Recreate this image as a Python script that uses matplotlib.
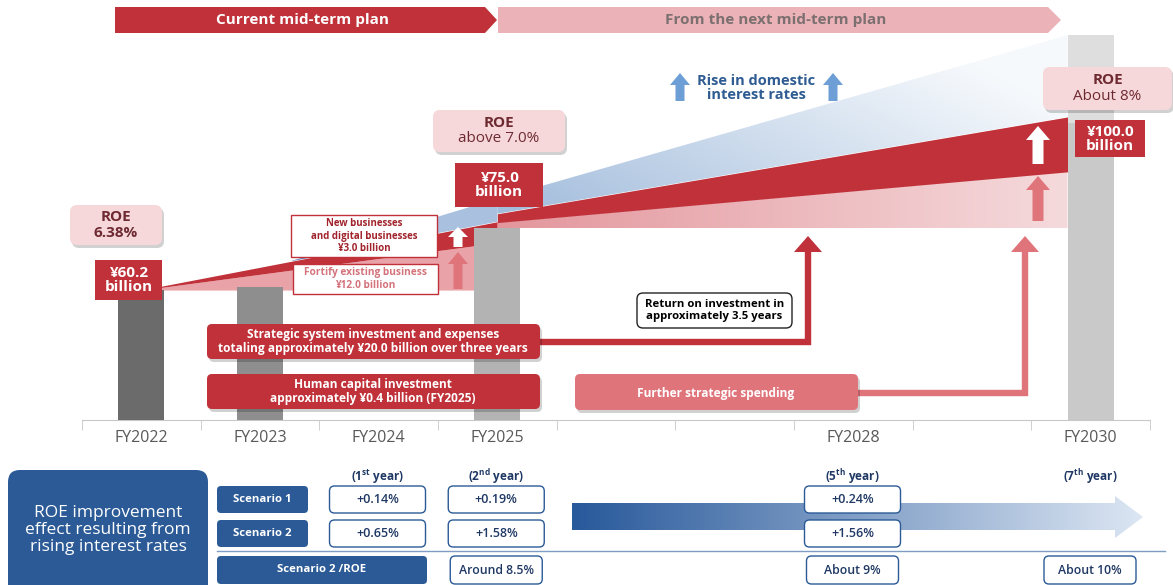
import numpy as np
import matplotlib.pyplot as plt
from matplotlib.patches import FancyBboxPatch, Polygon, FancyArrow
from matplotlib.colors import to_rgb

plt.rcParams['font.family'] = ['Open Sans', 'DejaVu Sans']
plt.rcParams['mathtext.fontset'] = 'custom'
plt.rcParams['mathtext.rm'] = 'Open Sans:bold'

# ---- data (billions of yen) ----
tick_labels = ['FY2022', 'FY2023', 'FY2024', 'FY2025', '', '', 'FY2028', '', 'FY2030']
bar_slots = [0, 1, 3, 8]
bar_values = [60.2, 61.0, 75.0, 100.0]
bar_colors = ['#6b6b6b', '#8e8e8e', '#b3b3b3', '#c9c9c9']
label_values = [60.2, 75.0, 100.0]
roe_labels = [('ROE', '6.38%'), ('ROE', 'above 7.0%'), ('ROE', 'About 8%')]

# fan between FY2022 and FY2025
seg1_x = [0, 3]
seg1_pink_top = [60.2, 71.5]
seg1_red_top = [60.2, 76.5]
seg1_blue_x = [1.26, 3]
seg1_blue_top = [67.1, 82.0]
# fan between FY2025 and FY2030
seg2_x = [3, 7.805]
seg2_base = 75.0
seg2_pink_top = [76.3, 88.4]
seg2_red_top = [78.4, 101.5]
seg2_blue_top = [82.0, 121.0]

year_headers = ['1', '2', '5', '7']
year_suffix = ['st', 'nd', 'th', 'th']
header_slots = [2, 3, 6, 8]
scenario1 = ['+0.14%', '+0.19%', '+0.24%']
scenario2 = ['+0.65%', '+1.58%', '+1.56%']
scenario_slots = [2, 3, 6]
roe_row = ['Around 8.5%', 'About 9%', 'About 10%']
roe_row_slots = [3, 6, 8]

RED = '#c0313a'
PINK = '#e0747b'
LPINK = '#f6d8da'
NAVY = '#2b5a96'
TXTBLUE = '#1f3864'

fig = plt.figure(figsize=(11.73, 5.85), dpi=100)

# main chart axes, baseline at y=420px, slots every 118.75px
ax = fig.add_axes([82 / 1173, 1 - 420 / 585, 1068 / 1173, 420 / 585])
ax.set_xlim(-0.5, 8.5)
ax.set_ylim(29.2, 129.4)
ax.set_facecolor('none')
for s in ['top', 'left', 'right']:
    ax.spines[s].set_visible(False)
ax.spines['bottom'].set_color('#c8c8c8')
ax.set_yticks([])
ax.set_xticks(range(9))
ax.set_xticklabels(tick_labels, color='#595959', fontsize=11.5)
ax.set_xticks(np.arange(-0.5, 9.0, 1.0), minor=True)
ax.tick_params(axis='x', which='major', length=0, pad=7)
ax.tick_params(axis='x', which='minor', length=7, color='#c8c8c8')


def grad_fill(a, xs, lo, hi, c0, c1, wx=1.0, wy=0.0, z=1):
    xs = np.asarray(xs, float)
    lo = np.broadcast_to(np.asarray(lo, float), xs.shape)
    hi = np.asarray(hi, float)
    verts = np.vstack([np.column_stack([xs, lo]), np.column_stack([xs[::-1], hi[::-1]])])
    poly = Polygon(verts, closed=True, facecolor='none', edgecolor='none')
    a.add_patch(poly)
    ny, nx = 60, 120
    xf = np.linspace(0, 1, nx)[None, :]
    yf = np.linspace(0, 1, ny)[:, None]
    t = np.clip(wx * xf + wy * yf, 0, 1)
    c0, c1 = np.array(to_rgb(c0)), np.array(to_rgb(c1))
    img = c0[None, None, :] * (1 - t[..., None]) + c1[None, None, :] * t[..., None]
    im = a.imshow(img, extent=[xs.min(), xs.max(), min(lo.min(), hi.min()), max(lo.max(), hi.max())],
                  origin='lower', aspect='auto', zorder=z, interpolation='bilinear')
    im.set_clip_path(poly)


# fan FY2022 -> FY2025
ax.fill_between(seg1_x, [bar_values[0]] * 2, seg1_pink_top, color='#e9a3a8', lw=0, zorder=1)
ax.fill_between(seg1_x, seg1_pink_top, seg1_red_top, color=RED, lw=0, zorder=1)
blue1_lo = np.interp(seg1_blue_x, seg1_x, seg1_red_top)
grad_fill(ax, seg1_blue_x, blue1_lo, seg1_blue_top, '#5d83ba', '#a9c1df', wx=2.0, z=1)

# fan FY2025 -> FY2030
grad_fill(ax, seg2_x, seg2_base, seg2_pink_top, '#e3969c', '#f5dadc', wx=1.0, z=1)
ax.fill_between(seg2_x, seg2_pink_top, seg2_red_top, color=RED, lw=0, zorder=1)
grad_fill(ax, seg2_x, seg2_red_top, seg2_blue_top, '#a2bcdc', '#f6f9fc', wx=0.75, wy=0.45, z=1)

# bars
ax.bar(bar_slots[-1], seg2_blue_top[-1] - bar_values[-1], bottom=bar_values[-1], width=0.39,
       color='#dedede', zorder=3)
ax.bar(bar_slots, np.array(bar_values) - 29.2, bottom=29.2, width=0.39, color=bar_colors, zorder=3)

# ---- overlay in pixel coordinates ----
ov = fig.add_axes([0, 0, 1, 1], zorder=5)
ov.axis('off')


def px(slot):
    return 140 + 118.75 * slot


def rbox(x0, y0, x1, y1, fc, ec='none', lw=0.0, r=6, shadow=False, z=5):
    if shadow:
        ov.add_patch(FancyBboxPatch((x0 + 2, y0 + 3), x1 - x0, y1 - y0,
                                    boxstyle=f'round,pad=0,rounding_size={r}',
                                    fc='#000000', ec='none', alpha=0.18, zorder=z - 0.1))
    ov.add_patch(FancyBboxPatch((x0, y0), x1 - x0, y1 - y0,
                                boxstyle=f'round,pad=0,rounding_size={r}',
                                fc=fc, ec=ec, lw=lw, zorder=z))


def label(x, y, s, **kw):
    kw.setdefault('ha', 'center')
    kw.setdefault('va', 'center')
    kw.setdefault('zorder', 7)
    ov.text(x, y, s, **kw)


def up_arrow(x, y_tail, y_head, color, w=9, hw=22, hl=11, z=6):
    ov.add_patch(FancyArrow(x, y_tail, 0, y_head - y_tail, width=w, head_width=hw,
                            head_length=hl, length_includes_head=True, color=color, lw=0, zorder=z))


# banners
ov.add_patch(Polygon([(115, 7), (485, 7), (497, 20), (485, 33), (115, 33)], fc=RED, ec='none'))
label(303, 20, 'Current mid-term plan', color='white', fontsize=11, fontweight='bold')
ov.add_patch(Polygon([(498, 7), (1048, 7), (1061, 20), (1048, 33), (498, 33)], fc='#ebb3b7', ec='none'))
label(776, 20, 'From the next mid-term plan', color='#7b6f70', fontsize=11, fontweight='bold')

# ROE boxes
roe_boxes = [(70, 205, 162, 245), (433, 110, 565, 152), (1043, 67, 1172, 110)]
for (x0, y0, x1, y1), (l1, l2), k in zip(roe_boxes, roe_labels, range(3)):
    rbox(x0, y0, x1, y1, LPINK, shadow=True, r=7)
    cx, cy = (x0 + x1) / 2, (y0 + y1) / 2
    label(cx, cy - 8, l1, color='#6e2a31', fontsize=11, fontweight='bold')
    label(cx, cy + 8, l2, color='#6e2a31', fontsize=11, fontweight='bold' if k == 0 else 'normal')

# value boxes
val_boxes = [(95, 260, 162, 300), (455, 163, 543, 207), (1075, 120, 1145, 157)]
for (x0, y0, x1, y1), v in zip(val_boxes, label_values):
    ov.add_patch(Polygon([(x0, y0), (x1, y0), (x1, y1), (x0, y1)], fc=RED, ec='none', zorder=5))
    label((x0 + x1) / 2, (y0 + y1) / 2, f'¥{v:.1f}\nbillion', color='white', fontsize=11,
          fontweight='bold', linespacing=1.0)

# breakdown boxes FY2025
ov.add_patch(Polygon([(291, 215), (437, 215), (437, 257), (291, 257)], fc='white', ec='#c0313a', lw=1, zorder=5))
label(364, 236, 'New businesses\nand digital businesses\n¥3.0 billion', color='#a1242c', fontsize=7,
      fontweight='bold', linespacing=1.15)
ov.add_patch(Polygon([(293, 264), (438, 264), (438, 294), (293, 294)], fc='white', ec='#c0313a', lw=1, zorder=5))
label(365, 279, 'Fortify existing business\n¥12.0 billion', color='#d4737b', fontsize=7.3,
      fontweight='bold', linespacing=1.15)
up_arrow(458, 247, 227, 'white', w=9, hw=20, hl=10)
up_arrow(458, 289, 252, '#e0747b', w=9, hw=20, hl=12)
up_arrow(1038, 164, 126, 'white', w=11, hw=24, hl=14)
up_arrow(1038, 221, 176, '#e0747b', w=11, hw=24, hl=14)

# interest rates note
label(756, 88, 'Rise in domestic\ninterest rates', color='#2f5c92', fontsize=10.5, fontweight='bold',
      linespacing=1.05)
up_arrow(680, 101, 73, '#6d9fd6', w=9, hw=20, hl=12)
up_arrow(833, 101, 73, '#6d9fd6', w=9, hw=20, hl=12)

# elbow arrows
ov.plot([540, 808, 808], [342, 342, 250], color=RED, lw=4.6, solid_joinstyle='miter',
        solid_capstyle='butt', zorder=4)
ov.add_patch(Polygon([(794, 252), (822, 252), (808, 236)], fc=RED, ec='none', zorder=4))
ov.plot([858, 1025, 1025], [393, 393, 250], color=PINK, lw=4.6, solid_joinstyle='miter',
        solid_capstyle='butt', zorder=4)
ov.add_patch(Polygon([(1011, 252), (1039, 252), (1025, 236)], fc=PINK, ec='none', zorder=4))

rbox(207, 324, 540, 359, RED, shadow=True, r=5)
label(373, 341.5, 'Strategic system investment and expenses\ntotaling approximately ¥20.0 billion over three years',
      color='white', fontsize=8.6, fontweight='bold', linespacing=1.1)
rbox(207, 374, 540, 409, RED, shadow=True, r=5)
label(373, 391.5, 'Human capital investment\napproximately ¥0.4 billion (FY2025)',
      color='white', fontsize=8.6, fontweight='bold', linespacing=1.1)
rbox(575, 374, 858, 410, PINK, shadow=True, r=5)
label(716, 393, 'Further strategic spending', color='white', fontsize=8.6, fontweight='bold')
rbox(637, 293, 792, 328, 'white', ec='#222222', lw=1, r=6)
label(714.5, 310.5, 'Return on investment in\napproximately 3.5 years', color='black', fontsize=8.2,
      fontweight='bold', linespacing=1.1)

# ---- table ----
rbox(8, 470, 208, 600, NAVY, r=12)
label(108, 530, 'ROE improvement\neffect resulting from\nrising interest rates', color='white',
      fontsize=12.5, linespacing=1.05)
ov.plot([217, 1165], [550.5, 550.5], color='#7f9dc4', lw=1, zorder=4)

# gradient arrow
arr = Polygon([(572, 503), (1115, 503), (1115, 496), (1143, 517), (1115, 538), (1115, 530), (572, 530)],
              closed=True, fc='none', ec='none')
ov.add_patch(arr)
g = np.linspace(0, 1, 200)[None, :]
c0, c1 = np.array(to_rgb('#28599b')), np.array(to_rgb('#dce6f3'))
gimg = c0 * (1 - g[..., None]) + c1 * g[..., None]
gim = ov.imshow(np.repeat(gimg, 2, axis=0), extent=[572, 1143, 538, 496], aspect='auto', zorder=3)
gim.set_clip_path(arr)
ov.set_xlim(0, 1173)
ov.set_ylim(585, 0)

rbox(217, 486, 308, 513, NAVY, r=4)
label(262.5, 499.5, 'Scenario 1', color='white', fontsize=8.2, fontweight='bold')
rbox(217, 520, 308, 547, NAVY, r=4)
label(262.5, 533.5, 'Scenario 2', color='white', fontsize=8.2, fontweight='bold')
rbox(217, 556, 427, 584, NAVY, r=4)
label(322, 570, 'Scenario 2 /ROE', color='white', fontsize=8.2, fontweight='bold')

for n, suf, s in zip(year_headers, year_suffix, header_slots):
    label(px(s), 477, f'({n}$^{{\\mathrm{{{suf}}}}}$ year)', color=TXTBLUE, fontsize=8.5,
          fontweight='bold')

for row_vals, y0 in [(scenario1, 486), (scenario2, 520)]:
    for v, s in zip(row_vals, scenario_slots):
        rbox(px(s) - 48, y0, px(s) + 48, y0 + 27, 'white', ec=NAVY, lw=1, r=5)
        label(px(s), y0 + 13.5, v, color=TXTBLUE, fontsize=9, fontweight='semibold')
for v, s in zip(roe_row, roe_row_slots):
    rbox(px(s) - 46, 556, px(s) + 46, 584, 'white', ec=NAVY, lw=1, r=5)
    label(px(s), 570, v, color=TXTBLUE, fontsize=8.8, fontweight='semibold')

fig.savefig('out.png', dpi=100)
